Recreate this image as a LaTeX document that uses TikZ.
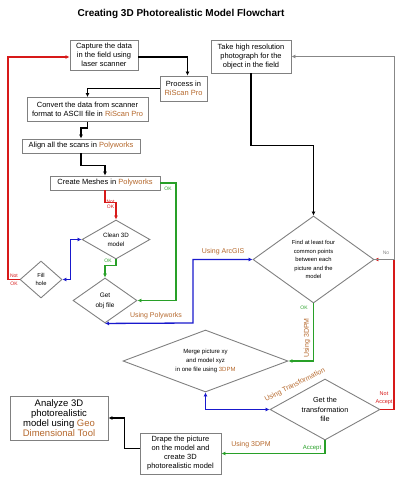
\documentclass[tikz,border=0pt]{standalone}
\usepackage{fontspec}
\setmainfont{Liberation Sans}
\usetikzlibrary{shapes.geometric,arrows.meta,calc}
\definecolor{brn}{RGB}{181,104,44}
\definecolor{cred}{RGB}{215,25,25}
\definecolor{cgreen}{RGB}{40,160,40}
\definecolor{cblue}{RGB}{25,25,205}
\definecolor{cgray}{RGB}{135,135,135}
\definecolor{bord}{RGB}{128,128,128}
\tikzset{
 box/.style={draw=bord, line width=0.9pt, fill=white, align=center, inner sep=0pt, font=\fontsize{7.5}{9}\selectfont},
 dia/.style={draw=bord, line width=0.9pt, shape=diamond, inner sep=0pt, aspect=1},
 dtext/.style={align=center, inner sep=0pt},
 tipend/.style={-{Latex[length=4pt,width=4pt]}},
 tipboth/.style={{Latex[length=4pt,width=4pt]}-{Latex[length=4pt,width=4pt]}},
 blk/.style={line width=1.6pt, black, tipend},
 redl/.style={line width=1.3pt, cred, tipend},
 grnl/.style={line width=1.3pt, cgreen, tipend},
 blul/.style={line width=1.3pt, cblue, tipboth},
 gryl/.style={line width=1pt, cgray, tipend},
 lbl/.style={inner sep=0pt, font=\fontsize{7}{8}\selectfont, text=brn},
 sml/.style={inner sep=0pt, align=center, font=\fontsize{5}{8}\selectfont},
}
\begin{document}
\begin{tikzpicture}[x=1pt,y=-1pt]
\useasboundingbox (0,0) rectangle (400,480);
\node[font=\bfseries\fontsize{10}{12}\selectfont] (title) at (181,14) {Creating 3D Photorealistic Model Flowchart};

% boxes
\node[box, minimum width=68pt, minimum height=30pt] (capture) at (104,55) {Capture the data\\in the field using\\laser scanner};
\node[box, minimum width=47pt, minimum height=25pt] (process) at (183.5,88.5) {Process in\\\textcolor{brn}{RiScan Pro}};
\node[box, minimum width=121pt, minimum height=24pt] (convert) at (87.5,109.5) {Convert the data from scanner\\format to ASCII file in \textcolor{brn}{RiScan Pro}};
\node[box, minimum width=118pt, minimum height=14pt] (align) at (81,146) {Align all the scans in \textcolor{brn}{Polyworks}};
\node[box, minimum width=110pt, minimum height=14pt] (create) at (105,183) {Create Meshes in \textcolor{brn}{Polyworks}};
\node[box, minimum width=80pt, minimum height=33pt] (photo) at (251,56.5) {Take high resolution\\photograph for the\\object in the field};
\node[box, minimum width=81pt, minimum height=41pt] (drape) at (180.5,453.5) {Drape the picture\\on the model and\\create 3D\\photorealistic model};
\node[box, font=\fontsize{9.5}{9.8}\selectfont, minimum width=98pt, minimum height=44pt] (analyze) at (59,418) {Analyze 3D\\photorealistic\\model using \textcolor{brn}{Geo}\\\textcolor{brn}{Dimensional Tool}};

% diamonds
\node[dia, minimum width=68pt, minimum height=39pt] (clean) at (116,239.5) {};
\node[dtext, font=\fontsize{6.2}{9}\selectfont] (cleant) at (clean) {Clean 3D\\model};
\node[dia, minimum width=42pt, minimum height=37pt] (fill) at (41,279.5) {};
\node[dtext, font=\fontsize{5.8}{8}\selectfont] (fillt) at (fill) {Fill\\hole};
\node[dia, minimum width=64pt, minimum height=45pt] (getobj) at (105,300.5) {};
\node[dtext, font=\fontsize{6.5}{10}\selectfont] (getobjt) at (getobj) {Get\\obj file};
\node[dia, minimum width=121pt, minimum height=87pt] (find) at (313.5,259.5) {};
\node[dtext, font=\fontsize{5.8}{8.5}\selectfont] (findt) at (find) {Find at least four\\common points\\between each\\picture and the\\model};
\node[dia, minimum width=165pt, minimum height=62pt] (merge) at (205.5,361) {};
\node[dtext, font=\fontsize{6}{9}\selectfont] (merget) at (merge) {Merge picture xy\\and model xyz\\in one file using \textcolor{brn}{3DPM}};
\node[dia, minimum width=110pt, minimum height=61pt] (trans) at (325,409.5) {};
\node[dtext, font=\fontsize{7.3}{9.5}\selectfont] (transt) at (trans) {Get the\\transformation\\file};

% coordinates for bends
\coordinate (g1) at (176,183);
\coordinate (r1) at (8,57);
\coordinate (b1) at (193,323);
\coordinate (g2) at (394,259.5);
\coordinate (r2) at (394,409.5);

% black flow
\draw[blk] ([yshift=-2pt]capture.east) -| ([xshift=4pt]process.north);
\draw[blk] (process.west) -| (convert.north);
\draw[blk] (convert.south) -- ++(0,6) -| (align.north);
\draw[blk] (align.south) -- ++(0,12) -| (create.north);
\draw[blk] (photo.south) -- ++(0,72) -| (find.north);
\draw[blk] ([yshift=5pt]drape.west) -- ++(-15,0) |- (analyze.east);

% red
\draw[redl] (create.south) -- ++(0,12) -| (clean.north);
\node[sml, text=cred] (l1) at (110.5,204.5) {Not\\[-2.5pt]OK};
\draw[redl] (fill.west) -| (r1) -- ([yshift=-2pt]capture.west);
\node[sml, text=cred] (l2) at (14,279.5) {Not\\OK};
\draw[redl] (trans.east) -- (r2) -- (g2) -- (find.east);
\node[sml, text=cred, font=\fontsize{5.5}{8}\selectfont] (l3) at (384,398) {Not\\Accept};

% gray
\draw[gryl] (find.east) -- (g2) |- (photo.east);
\node[sml, text=cgray] (l4) at (386,253) {No};

% green
\draw[grnl] (create.east) -- (g1) |- (getobj.east);
\node[sml, text=cgreen] (l5) at (168,189) {OK};
\draw[grnl] (clean.south) -- ++(0,6) -| (getobj.north);
\node[sml, text=cgreen] (l6) at (108,261) {OK};
\draw[grnl] (find.south) |- (merge.east);
\node[sml, text=cgreen] (l7) at (304,308) {OK};
\node[lbl, rotate=90] (l8) at (307,338) {Using 3DPM};
\draw[grnl] (trans.south) |- (drape.east);
\node[sml, text=cgreen, font=\fontsize{6}{7}\selectfont] (l9) at (312,448) {Accept};
\node[lbl] (l10) at (251,445) {Using 3DPM};

% blue
\draw[blul] (fill.east) -- ++(8,0) |- (clean.west);
\draw[blul] (getobj.south) -- (b1) |- (find.west);
\node[lbl] (l11) at (156,316) {Using Polyworks};
\node[lbl] (l12) at (223,252) {Using ArcGIS};
\draw[blul] (merge.south) |- (trans.west);
\node[lbl, rotate=27] (l13) at (295,385) {Using Transformation};
\end{tikzpicture}
\end{document}
